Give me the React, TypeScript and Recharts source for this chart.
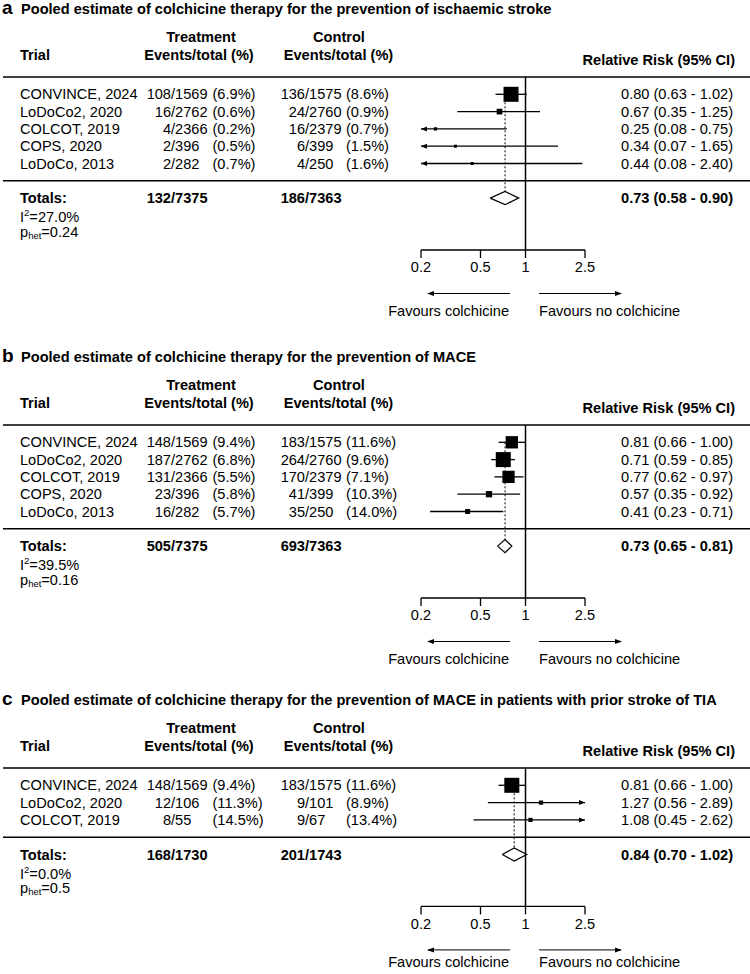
import React from "react";
import { ScatterChart, Scatter, XAxis, YAxis, ReferenceLine, ErrorBar } from "recharts";

const FONT = "'Liberation Sans', Arial, Helvetica, sans-serif";
const FS = 14.6;

// ---- panel a: ischaemic stroke
const titleA = "Pooled estimate of colchicine therapy for the prevention of ischaemic stroke";
const trialsA = ["CONVINCE, 2024", "LoDoCo2, 2020", "COLCOT, 2019", "COPS, 2020", "LoDoCo, 2013"];
const trtEventsA = [108, 16, 4, 2, 2];
const trtTotalA = [1569, 2762, 2366, 396, 282];
const trtPctA = [6.9, 0.6, 0.2, 0.5, 0.7];
const ctlEventsA = [136, 24, 16, 6, 4];
const ctlTotalA = [1575, 2760, 2379, 399, 250];
const ctlPctA = [8.6, 0.9, 0.7, 1.5, 1.6];
const rrA = [0.8, 0.67, 0.25, 0.34, 0.44];
const loA = [0.63, 0.35, 0.08, 0.07, 0.08];
const hiA = [1.02, 1.25, 0.75, 1.65, 2.4];
const weightA = [78.5, 11.3, 3.8, 3.2, 3.2];
const pooledA = [0.73, 0.58, 0.9];
const totalsA = ["132/7375", "186/7363"];
const hetA = ["27.0%", "0.24"];

// ---- panel b: MACE
const titleB = "Pooled estimate of colchicine therapy for the prevention of MACE";
const trialsB = ["CONVINCE, 2024", "LoDoCo2, 2020", "COLCOT, 2019", "COPS, 2020", "LoDoCo, 2013"];
const trtEventsB = [148, 187, 131, 23, 16];
const trtTotalB = [1569, 2762, 2366, 396, 282];
const trtPctB = [9.4, 6.8, 5.5, 5.8, 5.7];
const ctlEventsB = [183, 264, 170, 41, 35];
const ctlTotalB = [1575, 2760, 2379, 399, 250];
const ctlPctB = [11.6, 9.6, 7.1, 10.3, 14.0];
const rrB = [0.81, 0.71, 0.77, 0.57, 0.41];
const loB = [0.66, 0.59, 0.62, 0.35, 0.23];
const hiB = [1.0, 0.85, 0.97, 0.92, 0.71];
const weightB = [25.6, 38.0, 25.5, 6.7, 4.2];
const pooledB = [0.73, 0.65, 0.81];
const totalsB = ["505/7375", "693/7363"];
const hetB = ["39.5%", "0.16"];

// ---- panel c: MACE after prior stroke / TIA
const titleC = "Pooled estimate of colchicine therapy for the prevention of MACE in patients with prior stroke of TIA";
const trialsC = ["CONVINCE, 2024", "LoDoCo2, 2020", "COLCOT, 2019"];
const trtEventsC = [148, 12, 8];
const trtTotalC = [1569, 106, 55];
const trtPctC = [9.4, 11.3, 14.5];
const ctlEventsC = [183, 9, 9];
const ctlTotalC = [1575, 101, 67];
const ctlPctC = [11.6, 8.9, 13.4];
const rrC = [0.81, 1.27, 1.08];
const loC = [0.66, 0.56, 0.45];
const hiC = [1.0, 2.89, 2.62];
const weightC = [86.5, 6.8, 6.7];
const pooledC = [0.84, 0.7, 1.02];
const totalsC = ["168/1730", "201/1743"];
const hetC = ["0.0%", "0.5"];

const xTicks = [0.2, 0.5, 1, 2.5];
const X_MIN = 0.2;
const X_MAX = 2.5;

const PITCH = 17.3;
const PAD = 12; // extra room above the title so nothing gets clipped
const HEAD_Y = 77 + PAD;

const Txt = ({ x, y, anchor = "start", bold = false, size = FS, children }: any) => (
  <text
    x={x}
    y={y}
    textAnchor={anchor}
    dominantBaseline="central"
    fontFamily={FONT}
    fontSize={size}
    fontWeight={bold ? "bold" : "normal"}
    fill="#000"
  >
    {children}
  </text>
);

const Frac = ({ slash, text, y, bold = false }: any) => {
  const [num, den] = text.split("/");
  return (
    <g>
      <Txt x={slash} y={y} anchor="end" bold={bold}>{num}</Txt>
      <Txt x={slash} y={y} bold={bold}>{"/" + den}</Txt>
    </g>
  );
};

const ci = (v: number[]) => `${v[0].toFixed(2)} (${v[1].toFixed(2)} - ${v[2].toFixed(2)})`;

function Panel(props: any) {
  const {
    top, height, letter, title, trials, trtEvents, trtTotal, trtPct, ctlEvents, ctlTotal, ctlPct,
    rr, lo, hi, weight, pooled, totals, het, footDy,
  } = props;
  const n = trials.length;
  const plotH = (n + 5) * PITCH;
  const axisH = 30;
  const maxW = Math.max(...weight);
  const h = height + PAD;

  const est = rr.map((v: number, i: number) => ({
    x: v,
    y: i,
    w: weight[i],
    err: [v - Math.max(lo[i], X_MIN), Math.min(hi[i], X_MAX) - v],
  }));
  const clipped: any[] = [];
  rr.forEach((_: number, i: number) => {
    if (lo[i] < X_MIN) clipped.push({ x: X_MIN, y: i, dir: -1 });
    if (hi[i] > X_MAX) clipped.push({ x: X_MAX, y: i, dir: 1 });
  });
  const dh = 0.38;
  const diamond = [
    { x: pooled[1], y: n + 1 },
    { x: pooled[0], y: n + 1 - dh },
    { x: pooled[2], y: n + 1 },
    { x: pooled[0], y: n + 1 + dh },
    { x: pooled[1], y: n + 1 },
  ];
  const rows = [
    { x: 1, y: -1, kind: "head" },
    ...trials.map((_: string, i: number) => ({ x: 1, y: i, kind: "trial", i })),
    { x: 1, y: n, kind: "rule" },
    { x: 1, y: n + 1, kind: "total" },
    { x: 1, y: n + 4, kind: "foot" },
  ];

  const renderRow = (p: any) => {
    const { cy, payload } = p;
    const k = payload.kind;
    if (k === "head") {
      return (
        <g>
          <line x1={3} x2={750} y1={cy} y2={cy} stroke="#000" strokeWidth={1.5} />
          <text x={2} y={cy - 63.3} fontFamily={FONT} fontSize={19} fontWeight="bold" fill="#000">{letter}</text>
          <text x={21} y={cy - 63.5} fontFamily={FONT} fontSize={FS} fontWeight="bold" fill="#000">{title}</text>
          <Txt x={201} y={cy - 40} anchor="middle" bold>Treatment</Txt>
          <Txt x={339} y={cy - 40} anchor="middle" bold>Control</Txt>
          <Txt x={20} y={cy - 22.5} bold>Trial</Txt>
          <Txt x={199} y={cy - 22.5} anchor="middle" bold>Events/total (%)</Txt>
          <Txt x={338.5} y={cy - 22.5} anchor="middle" bold>Events/total (%)</Txt>
          <Txt x={735} y={cy - 17} anchor="end" bold>Relative Risk (95% CI)</Txt>
        </g>
      );
    }
    if (k === "rule") {
      return <line x1={3} x2={750} y1={cy} y2={cy} stroke="#000" strokeWidth={1.5} />;
    }
    if (k === "trial") {
      const i = payload.i;
      return (
        <g>
          <Txt x={20} y={cy}>{trials[i]}</Txt>
          <Frac slash={171} y={cy} text={`${trtEvents[i]}/${trtTotal[i]}`} />
          <Txt x={212.5} y={cy}>{`(${trtPct[i].toFixed(1)}%)`}</Txt>
          <Frac slash={305} y={cy} text={`${ctlEvents[i]}/${ctlTotal[i]}`} />
          <Txt x={346} y={cy}>{`(${ctlPct[i].toFixed(1)}%)`}</Txt>
          <Txt x={733} y={cy} anchor="end">{ci([rr[i], lo[i], hi[i]])}</Txt>
        </g>
      );
    }
    if (k === "total") {
      return (
        <g>
          <Txt x={20} y={cy} bold>Totals:</Txt>
          <Frac slash={171} y={cy} text={totals[0]} bold />
          <Frac slash={305} y={cy} text={totals[1]} bold />
          <Txt x={733} y={cy} anchor="end" bold>{ci(pooled)}</Txt>
          <Txt x={20} y={cy + 19}>
            <tspan>I</tspan>
            <tspan dy={-5} fontSize={9.5}>2</tspan>
            <tspan dy={5}>{"=" + het[0]}</tspan>
          </Txt>
          <Txt x={20} y={cy + 33.5}>
            <tspan>p</tspan>
            <tspan dy={3} fontSize={9.5}>het</tspan>
            <tspan dy={-3}>{"=" + het[1]}</tspan>
          </Txt>
        </g>
      );
    }
    // footer under the axis
    const ay = cy + 43.5;
    const ty = cy + footDy;
    return (
      <g>
        <line x1={428} x2={510} y1={ay} y2={ay} stroke="#000" strokeWidth={1} />
        <path d={`M427,${ay} L434,${ay - 2.5} L434,${ay + 2.5} Z`} fill="#000" />
        <line x1={539} x2={621} y1={ay} y2={ay} stroke="#000" strokeWidth={1} />
        <path d={`M622,${ay} L615,${ay - 2.5} L615,${ay + 2.5} Z`} fill="#000" />
        <Txt x={509} y={ty} anchor="end">Favours colchicine</Txt>
        <Txt x={539} y={ty}>Favours no colchicine</Txt>
      </g>
    );
  };

  const renderBox = (p: any) => {
    const s = Math.max(3, 15 * Math.sqrt(p.payload.w / maxW));
    return <rect x={p.cx - s / 2} y={p.cy - s / 2} width={s} height={s} fill="#000" />;
  };

  const renderArrow = (p: any) => {
    const d = p.payload.dir;
    const { cx, cy } = p;
    return <path d={`M${cx},${cy} L${cx - d * 6},${cy - 2.5} L${cx - d * 6},${cy + 2.5} Z`} fill="#000" />;
  };

  return (
    <div style={{ position: "absolute", left: 0, top: top - PAD }}>
      <ScatterChart
        width={750}
        height={h}
        margin={{ top: HEAD_Y, left: 421, right: 165, bottom: h - HEAD_Y - plotH - axisH }}
      >
        <XAxis
          type="number"
          dataKey="x"
          scale="log"
          domain={[X_MIN, X_MAX]}
          ticks={xTicks}
          height={axisH}
          tickSize={8}
          tickMargin={4}
          axisLine={{ stroke: "#000", strokeWidth: 1.3 }}
          tickLine={{ stroke: "#000", strokeWidth: 1.3 }}
          tick={{ fill: "#000", fontSize: FS, fontFamily: FONT }}
        />
        <YAxis type="number" dataKey="y" domain={[-1, n + 4]} reversed hide />
        <ReferenceLine x={1} stroke="#000" strokeWidth={1.5} />
        <ReferenceLine
          segment={[{ x: pooled[0], y: 0 }, { x: pooled[0], y: n + 1 - dh }]}
          stroke="#000"
          strokeWidth={1}
          strokeDasharray="2 2"
        />
        <Scatter data={rows} shape={renderRow} isAnimationActive={false} />
        <Scatter data={est} shape={renderBox} isAnimationActive={false}>
          <ErrorBar dataKey="err" direction="x" width={0} stroke="#000" strokeWidth={1.3} />
        </Scatter>
        <Scatter data={clipped} shape={renderArrow} isAnimationActive={false} />
        <Scatter
          data={diamond}
          line={{ stroke: "#000", strokeWidth: 1.2 }}
          lineType="joint"
          shape={() => <g />}
          isAnimationActive={false}
        />
      </ScatterChart>
    </div>
  );
}

export default function App() {
  return (
    <div style={{ position: "absolute", left: 0, top: 0, width: 750, height: 974, background: "#fff", overflow: "hidden" }}>
      <Panel
        top={0} height={330} letter="a" title={titleA} trials={trialsA}
        trtEvents={trtEventsA} trtTotal={trtTotalA} trtPct={trtPctA}
        ctlEvents={ctlEventsA} ctlTotal={ctlTotalA} ctlPct={ctlPctA}
        rr={rrA} lo={loA} hi={hiA} weight={weightA} pooled={pooledA} totals={totalsA} het={hetA} footDy={61}
      />
      <Panel
        top={348} height={330} letter="b" title={titleB} trials={trialsB}
        trtEvents={trtEventsB} trtTotal={trtTotalB} trtPct={trtPctB}
        ctlEvents={ctlEventsB} ctlTotal={ctlTotalB} ctlPct={ctlPctB}
        rr={rrB} lo={loB} hi={hiB} weight={weightB} pooled={pooledB} totals={totalsB} het={hetB} footDy={61}
      />
      <Panel
        top={691} height={283} letter="c" title={titleC} trials={trialsC}
        trtEvents={trtEventsC} trtTotal={trtTotalC} trtPct={trtPctC}
        ctlEvents={ctlEventsC} ctlTotal={ctlTotalC} ctlPct={ctlPctC}
        rr={rrC} lo={loC} hi={hiC} weight={weightC} pooled={pooledC} totals={totalsC} het={hetC} footDy={56}
      />
    </div>
  );
}
